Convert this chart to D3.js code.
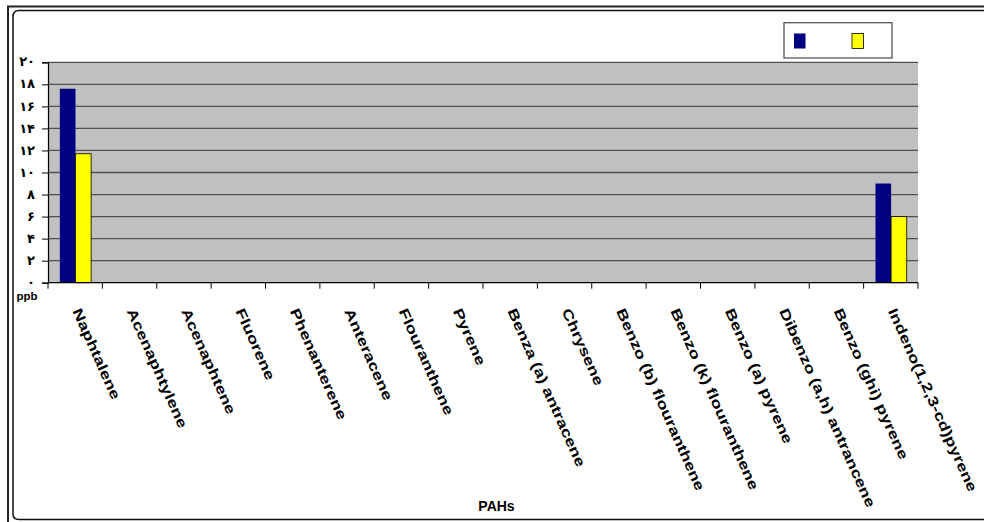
<!DOCTYPE html>
<html>
<head>
<meta charset="utf-8">
<script src="https://cdn.jsdelivr.net/npm/d3@7"></script>
<style>
  html, body { margin: 0; padding: 0; background: #fff; }
  svg { display: block; }
  text { font-family: Arial, "Liberation Sans", sans-serif; font-weight: bold; fill: #000; }
</style>
</head>
<body>
<svg id="chart" width="984" height="522"></svg>
<script>
// PAH concentrations (ppb) per compound
const categories = [
  "Naphtalene", "Acenaphtylene", "Acenaphtene", "Fluorene", "Phenanterene",
  "Anteracene", "Flouranthene", "Pyrene", "Benza (a) antracene", "Chrysene",
  "Benzo (b) flouranthene", "Benzo (k) flouranthene", "Benzo (a) pyrene",
  "Dibenzo (a,h) antrancene", "Benzo (ghi) pyrene", "Indeno(1,2,3-cd)pyrene"
];
const seriesNames = ["s1", "s2"];
const seriesA = [17.6, 0, 0, 0, 0, 0, 0, 0, 0, 0, 0, 0, 0, 0, 0, 9.0];
const seriesB = [11.7, 0, 0, 0, 0, 0, 0, 0, 0, 0, 0, 0, 0, 0, 0, 6.0];
const yTicks = [0, 2, 4, 6, 8, 10, 12, 14, 16, 18, 20];
const yTickLabels = ["۰", "۲", "۴", "۶", "۸", "۱۰", "۱۲", "۱۴", "۱۶", "۱۸", "۲۰"];
const colors = ["#000080", "#ffff00"];

const svg = d3.select("#chart");

// outer frame
svg.append("path")
  .attr("d", "M8,522 V6.5 H984")
  .attr("fill", "none").attr("stroke", "#222").attr("stroke-width", 2);
svg.append("path")
  .attr("d", "M984,10.5 H19 Q13,10.5 13,16.5 V514 Q13,519.5 19,519.5 H984")
  .attr("fill", "none").attr("stroke", "#111").attr("stroke-width", 1.5);

const plot = { left: 48, right: 918, top: 62.3, bottom: 282.7 };

const x0 = d3.scaleBand().domain(categories).range([plot.left, plot.right]).padding(0);
const x1 = d3.scaleBand().domain(seriesNames)
  .range([x0.bandwidth() * 0.218, x0.bandwidth() * 0.793]).padding(0);
const y = d3.scaleLinear().domain([0, 20]).range([plot.bottom, plot.top]);

// plot background
svg.append("rect")
  .attr("x", plot.left).attr("y", plot.top)
  .attr("width", plot.right - plot.left).attr("height", plot.bottom - plot.top)
  .attr("fill", "#c0c0c0");

// gridlines
svg.append("g").selectAll("line").data(yTicks.filter(d => d > 0)).join("line")
  .attr("x1", plot.left).attr("x2", plot.right)
  .attr("y1", d => y(d)).attr("y2", d => y(d))
  .attr("stroke", "#505050").attr("stroke-width", 1.3);

// bars
const data = categories.map((c, i) => ({ c, vals: [seriesA[i], seriesB[i]] }));
const groups = svg.append("g").selectAll("g").data(data).join("g")
  .attr("transform", d => `translate(${x0(d.c)},0)`);
groups.selectAll("rect")
  .data(d => d.vals.map((v, k) => ({ v, k })).filter(e => e.v > 0))
  .join("rect")
  .attr("x", e => x1(seriesNames[e.k]))
  .attr("width", x1.bandwidth())
  .attr("y", e => y(e.v))
  .attr("height", e => y(0) - y(e.v))
  .attr("fill", e => colors[e.k])
  .attr("stroke", e => e.k === 1 ? "#000" : "none")
  .attr("stroke-width", 0.8);

// y axis
const yAxis = d3.axisLeft(y).tickValues(yTicks)
  .tickFormat((d, i) => yTickLabels[i]).tickSize(6).tickPadding(7);
const gy = svg.append("g").attr("transform", `translate(${plot.left},0)`).call(yAxis);
gy.select(".domain").attr("stroke", "#000").attr("stroke-width", 1.2);
gy.selectAll(".tick line").attr("stroke", "#000");
gy.selectAll(".tick text")
  .style("font-family", "'DejaVu Sans', sans-serif")
  .style("font-size", "13px").style("font-weight", "bold")
  .attr("dy", "0.28em");

// x axis: ticks at category boundaries
const boundaries = categories.map(c => x0(c)).concat([plot.right]);
svg.append("line")
  .attr("x1", plot.left).attr("x2", plot.right)
  .attr("y1", plot.bottom).attr("y2", plot.bottom)
  .attr("stroke", "#000").attr("stroke-width", 1.2);
svg.append("g").selectAll("line").data(boundaries).join("line")
  .attr("x1", d => d).attr("x2", d => d)
  .attr("y1", plot.bottom).attr("y2", plot.bottom + 6)
  .attr("stroke", "#000");

// rotated category labels
svg.append("g").selectAll("text").data(categories).join("text")
  .attr("transform", c => `translate(${x0(c) + x0.bandwidth() / 2 - 3},311) rotate(66) scale(1.3,1)`)
  .style("font-size", "14px")
  .text(c => c);

// axis titles
svg.append("text").attr("x", 16.5).attr("y", 300)
  .style("font-size", "11.5px").text("ppb");
svg.append("text").attr("x", 496.5).attr("y", 510.5).attr("text-anchor", "middle")
  .style("font-size", "14px").text("PAHs");

// legend
const legend = svg.append("g");
legend.append("rect").attr("x", 784).attr("y", 22.7).attr("width", 108).attr("height", 35.3)
  .attr("fill", "#fff").attr("stroke", "#555").attr("stroke-width", 1.3);
legend.selectAll("rect.sw").data(seriesNames).join("rect").attr("class", "sw")
  .attr("x", (d, i) => i === 0 ? 794 : 852)
  .attr("y", 33.5).attr("width", 11.5).attr("height", 15)
  .attr("fill", (d, i) => colors[i])
  .attr("stroke", (d, i) => i === 1 ? "#000" : "none").attr("stroke-width", 0.8);
</script>
</body>
</html>
